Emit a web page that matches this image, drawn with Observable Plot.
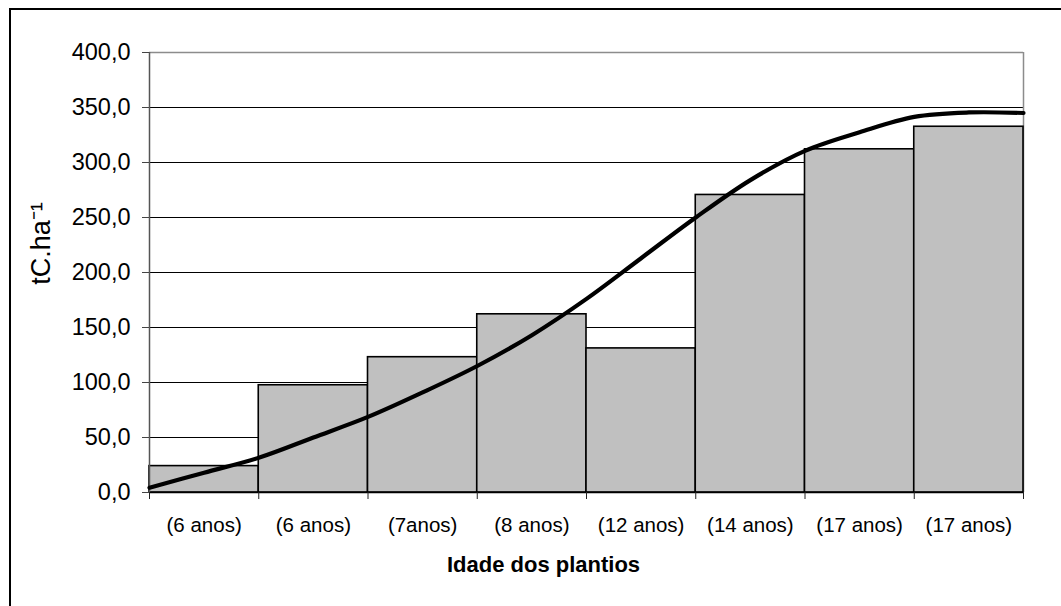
<!DOCTYPE html>
<html>
<head>
<meta charset="utf-8">
<script src="https://cdn.jsdelivr.net/npm/d3@7"></script>
<script src="https://cdn.jsdelivr.net/npm/@observablehq/plot@0.6"></script>
<style>
  html, body { margin: 0; padding: 0; background: #fff; }
  #wrap { position: relative; width: 1061px; height: 606px; overflow: hidden; }
  #border { position: absolute; left: 9px; top: 8px; width: 1100px; height: 700px; border: 2px solid #000; box-sizing: border-box; pointer-events: none; }
  #chart { position: absolute; left: 0; top: 0; }
  svg { font-family: "Liberation Sans", Arial, sans-serif; }
</style>
</head>
<body>
<div id="wrap"><div id="chart"></div><div id="border"></div></div>
<script>
const categories = ["(6 anos)", "(6 anos)", "(7anos)", "(8 anos)", "(12 anos)", "(14 anos)", "(17 anos)", "(17 anos)"];
const values = [24, 97.5, 123, 162, 131, 270.5, 312, 332.5];
const curvePos = [0, 0.5, 1, 1.5, 2, 2.5, 3, 3.5, 4, 4.5, 5, 5.5, 6, 6.5, 7, 7.5, 8];
const curveVal = [4.4, 18, 31.6, 50, 68.7, 91, 115, 143, 176, 213, 250, 284, 310.6, 327.5, 341.5, 345.5, 345];
const yTicks = [0, 50, 100, 150, 200, 250, 300, 350, 400];
const yLabel = "tC.ha⁻¹";
const xTitle = "Idade dos plantios";

const bars = categories.map((c, i) => ({i, c, v: values[i]}));
const curve = curvePos.map((p, k) => ({p, v: curveVal[k]}));
const n = categories.length;

const chart = Plot.plot({
  width: 1061,
  height: 606,
  marginLeft: 149,
  marginRight: 38,
  marginTop: 52,
  marginBottom: 114,
  x: {domain: [0, n]},
  y: {domain: [0, 400]},
  style: {fontFamily: "Liberation Sans, Arial, sans-serif", background: "transparent"},
  marks: [
    Plot.gridY(yTicks.filter(t => t > 0 && t < 400), {stroke: "#000", strokeOpacity: 1, strokeWidth: 1}),
    Plot.ruleY([400], {stroke: "#8c8c8c", strokeWidth: 1.5}),
    Plot.ruleX([n], {y1: 0, y2: 400, stroke: "#8c8c8c", strokeWidth: 1.5}),
    Plot.rectY(bars, {x1: "i", x2: d => d.i + 1, y: "v", fill: "#c0c0c0", stroke: "#000", strokeWidth: 1.6}),
    Plot.ruleY([0], {stroke: "#000", strokeWidth: 1.5}),
    Plot.ruleX([0], {y1: 0, y2: 400, stroke: "#555", strokeWidth: 1.5}),
    Plot.line(curve, {x: "p", y: "v", curve: "catmull-rom", stroke: "#000", strokeWidth: 4.2}),
    Plot.axisY({ticks: yTicks, tickFormat: d => d.toFixed(1).replace(".", ","), tickSize: 7, tickPadding: 12, fontSize: 23.5, stroke: "#444", label: null}),
    Plot.axisX({ticks: d3.range(0, n + 1), tickSize: 7, tickFormat: () => "", stroke: "#222", label: null}),
    Plot.axisX({ticks: d3.range(0, n).map(i => i + 0.5), tickSize: 0, tickPadding: 25, tickFormat: t => categories[Math.floor(t)], fontSize: 20.5, label: null}),
    Plot.text([yLabel], {frameAnchor: "left", dx: -108, dy: -29, rotate: -90, fontSize: 27, fill: "#000", textAnchor: "middle", lineAnchor: "middle"}),
    Plot.text([xTitle], {frameAnchor: "bottom", dx: -43, dy: 72, fontSize: 22, fontWeight: "bold", fill: "#000", lineAnchor: "middle"})
  ]
});
document.getElementById("chart").appendChild(chart);
</script>
</body>
</html>
